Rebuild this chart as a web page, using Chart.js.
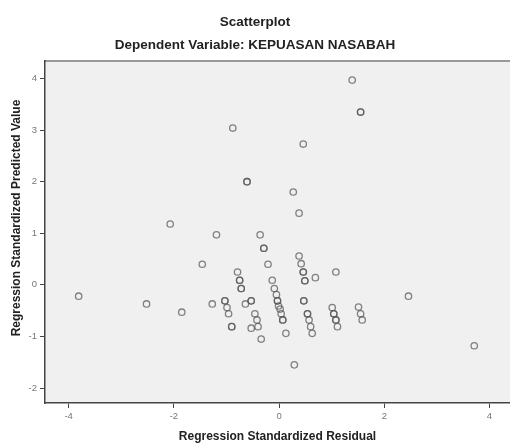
<!DOCTYPE html>
<html lang="en">
<head>
    <meta charset="UTF-8">
    <title>Scatterplot</title>
    <script src="https://cdn.jsdelivr.net/npm/chart.js"></script>
    <style>
        body {
            margin: 0;
            background: #fff;
        }
    </style>
</head>
<body>
    <canvas id="scatterChart" width="510" height="444"></canvas>

    <script>
        // residuals (x) and predicted values (y)
        const residuals = [
            -3.81, -2.52, -2.07, -1.85, -1.46, -1.27, -1.19, -1.03, -1.03, -0.99,
            -0.96, -0.90, -0.90, -0.88, -0.79, -0.75, -0.75, -0.72, -0.72, -0.64,
            -0.61, -0.61, -0.53, -0.53, -0.53, -0.46, -0.42, -0.40, -0.36, -0.34,
            -0.29, -0.29, -0.21, -0.13, -0.09, -0.05, -0.03, -0.03, -0.01, 0.02,
            0.04, 0.07, 0.07, 0.13, 0.27, 0.29, 0.38, 0.38, 0.42, 0.46,
            0.46, 0.46, 0.47, 0.47, 0.49, 0.49, 0.54, 0.54, 0.57, 0.60,
            0.63, 0.69, 1.01, 1.04, 1.04, 1.08, 1.08, 1.08, 1.11, 1.39,
            1.51, 1.55, 1.55, 1.55, 1.58, 2.46, 3.71
        ];
        const predicted = [
            -0.22, -0.37, 1.18, -0.53, 0.40, -0.37, 0.97, -0.31, -0.31, -0.44,
            -0.56, -0.81, -0.81, 3.04, 0.25, 0.09, 0.09, -0.07, -0.07, -0.37,
            2.00, 2.00, -0.31, -0.31, -0.84, -0.56, -0.68, -0.81, 0.97, -1.05,
            0.71, 0.71, 0.40, 0.09, -0.07, -0.19, -0.31, -0.31, -0.41, -0.47,
            -0.56, -0.68, -0.68, -0.94, 1.80, -1.55, 1.39, 0.56, 0.41, 0.25,
            0.25, 2.73, -0.31, -0.31, 0.08, 0.08, -0.56, -0.56, -0.68, -0.81,
            -0.94, 0.14, -0.44, -0.56, -0.56, -0.68, -0.68, 0.25, -0.81, 3.97,
            -0.43, -0.56, 3.35, 3.35, -0.68, -0.22, -1.18
        ];
        const xTicks = [-4, -2, 0, 2, 4];
        const yTicks = [-2, -1, 0, 1, 2, 3, 4];
        const yTitle = 'Regression Standardized Predicted Value';

        const points = residuals.map((x, i) => ({ x: x, y: predicted[i] }));
        const boldFont = { family: 'Liberation Sans, Arial, sans-serif', size: 12, weight: 'bold' };
        const headFont = { family: 'Liberation Sans, Arial, sans-serif', size: 13.5, weight: 'bold' };

        // grey plot background, the line along the top, and the y title
        // (SPSS puts the y title a bit above the middle of the axis)
        const plotDecor = {
            id: 'plotDecor',
            beforeDraw(chart) {
                const { ctx, chartArea } = chart;
                ctx.save();
                ctx.fillStyle = '#f0f0f0';
                ctx.fillRect(chartArea.left, chartArea.top, chartArea.right - chartArea.left, chartArea.bottom - chartArea.top);
                ctx.strokeStyle = '#999';
                ctx.lineWidth = 2;
                ctx.beginPath();
                ctx.moveTo(chartArea.left, chartArea.top);
                ctx.lineTo(chartArea.right, chartArea.top);
                ctx.stroke();
                ctx.restore();
            },
            afterDraw(chart) {
                const { ctx } = chart;
                ctx.save();
                ctx.translate(17, 218);
                ctx.rotate(-Math.PI / 2);
                ctx.font = 'bold 12px "Liberation Sans", Arial, sans-serif';
                ctx.fillStyle = '#222';
                ctx.textAlign = 'center';
                ctx.textBaseline = 'middle';
                ctx.fillText(yTitle, 0, 0);
                ctx.restore();
            }
        };

        const ctx = document.getElementById('scatterChart').getContext('2d');
        new Chart(ctx, {
            type: 'scatter',
            data: {
                datasets: [{
                    data: points,
                    pointRadius: 3.2,
                    pointBorderWidth: 1.3,
                    borderColor: 'rgba(85, 85, 85, 0.72)',
                    backgroundColor: 'rgba(0, 0, 0, 0)'
                }]
            },
            options: {
                responsive: false,
                animation: false,
                layout: { padding: 0, autoPadding: false },
                plugins: {
                    legend: { display: false },
                    tooltip: { enabled: false },
                    title: {
                        display: true,
                        text: 'Scatterplot',
                        color: '#222',
                        font: headFont,
                        padding: { top: 14, bottom: 6.7 }
                    },
                    subtitle: {
                        display: true,
                        text: 'Dependent Variable: KEPUASAN NASABAH',
                        color: '#222',
                        font: headFont,
                        padding: { top: 0, bottom: 7.9 }
                    }
                },
                scales: {
                    x: {
                        type: 'linear',
                        min: -4.45,
                        max: 4.39,
                        afterBuildTicks: scale => { scale.ticks = xTicks.map(v => ({ value: v })); },
                        afterFit: scale => {
                            scale.height = 41;
                            scale.paddingLeft = 0;
                            scale.paddingRight = 0;
                        },
                        grid: { drawOnChartArea: false, drawTicks: true, tickLength: 5, color: '#444' },
                        border: { display: true, color: '#444', width: 1.5 },
                        ticks: {
                            color: '#777',
                            padding: 3,
                            font: { family: 'Liberation Sans, Arial, sans-serif', size: 9.5 }
                        },
                        title: {
                            display: true,
                            text: 'Regression Standardized Residual',
                            color: '#222',
                            font: boldFont,
                            padding: { top: 0, bottom: 0 }
                        }
                    },
                    y: {
                        type: 'linear',
                        min: -2.29,
                        max: 4.34,
                        afterBuildTicks: scale => { scale.ticks = yTicks.map(v => ({ value: v })); },
                        afterFit: scale => {
                            scale.width = 45;
                            scale.paddingTop = 0;
                            scale.paddingBottom = 0;
                        },
                        grid: { drawOnChartArea: false, drawTicks: true, tickLength: 5, color: '#444' },
                        border: { display: true, color: '#444', width: 1.5 },
                        ticks: {
                            color: '#777',
                            padding: 3,
                            font: { family: 'Liberation Sans, Arial, sans-serif', size: 9.5 }
                        },
                        title: { display: false }
                    }
                }
            },
            plugins: [plotDecor]
        });
    </script>
</body>
</html>
